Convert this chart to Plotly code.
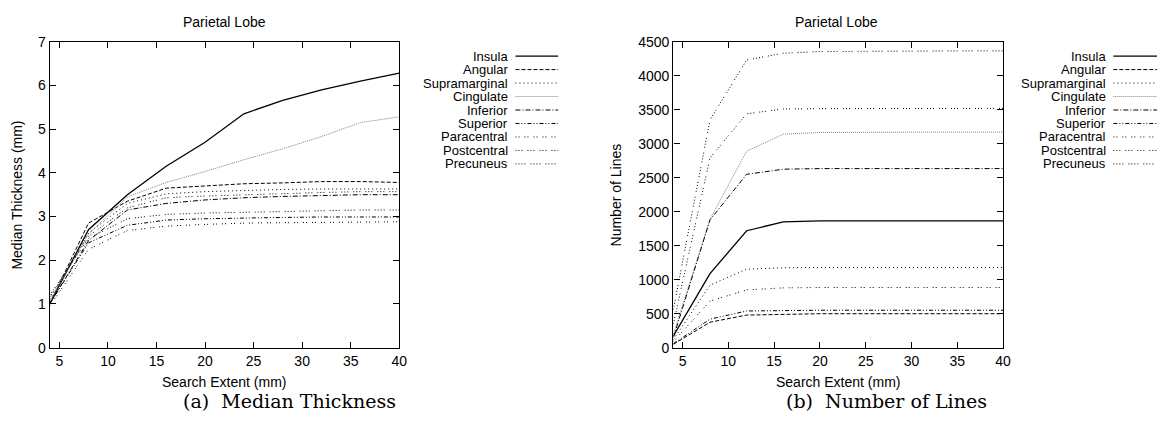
import plotly.graph_objects as go

# Search extent (mm) sampled for every region
search_extent = [4, 8, 12, 16, 20, 24, 28, 32, 36, 40]
x_ticks = [5, 10, 15, 20, 25, 30, 35, 40]

regions = ["Insula", "Angular", "Supramarginal", "Cingulate", "Inferior",
           "Superior", "Paracentral", "Postcentral", "Precuneus"]

# (a) Median thickness (mm)
thk_insula = [1.00, 2.70, 3.50, 4.15, 4.70, 5.35, 5.66, 5.90, 6.10, 6.28]
thk_angular = [1.00, 2.85, 3.35, 3.65, 3.70, 3.75, 3.77, 3.80, 3.80, 3.78]
thk_supramarginal = [1.10, 2.62, 3.30, 3.52, 3.57, 3.60, 3.62, 3.63, 3.63, 3.63]
thk_cingulate = [1.05, 2.60, 3.45, 3.78, 4.03, 4.30, 4.55, 4.83, 5.15, 5.28]
thk_inferior = [1.00, 2.45, 3.15, 3.30, 3.38, 3.43, 3.46, 3.48, 3.50, 3.50]
thk_superior = [1.00, 2.40, 2.80, 2.92, 2.95, 2.97, 2.98, 2.99, 2.99, 2.99]
thk_paracentral = [0.95, 2.25, 2.68, 2.78, 2.82, 2.85, 2.86, 2.87, 2.88, 2.88]
thk_postcentral = [1.15, 2.55, 3.20, 3.43, 3.47, 3.50, 3.53, 3.55, 3.57, 3.57]
thk_precuneus = [1.20, 2.50, 2.95, 3.05, 3.08, 3.10, 3.12, 3.14, 3.15, 3.15]

# (b) Number of lines
num_insula = [175, 1090, 1720, 1850, 1866, 1866, 1866, 1866, 1866, 1866]
num_angular = [50, 375, 480, 495, 500, 500, 500, 500, 500, 500]
num_supramarginal = [120, 920, 1155, 1175, 1180, 1180, 1180, 1180, 1180, 1180]
num_cingulate = [200, 1890, 2890, 3140, 3165, 3170, 3170, 3170, 3170, 3170]
num_inferior = [150, 1880, 2550, 2625, 2634, 2634, 2634, 2634, 2634, 2634]
num_superior = [60, 420, 540, 551, 551, 551, 551, 551, 551, 551]
num_paracentral = [90, 685, 850, 880, 885, 885, 885, 885, 885, 885]
num_postcentral = [350, 2790, 3440, 3510, 3515, 3518, 3520, 3520, 3520, 3520]
num_precuneus = [560, 3350, 4230, 4330, 4355, 4360, 4362, 4365, 4365, 4365]

thickness = [thk_insula, thk_angular, thk_supramarginal, thk_cingulate, thk_inferior,
             thk_superior, thk_paracentral, thk_postcentral, thk_precuneus]
num_lines = [num_insula, num_angular, num_supramarginal, num_cingulate, num_inferior,
             num_superior, num_paracentral, num_postcentral, num_precuneus]

# gnuplot-like line styles
dashes = {
    "Insula": "solid",
    "Angular": "4px,2px",
    "Supramarginal": "1px,3px",
    "Cingulate": "1px,1px",
    "Inferior": "5px,2px,1px,2px",
    "Superior": "4px,2px,1px,2px,1px,2px",
    "Paracentral": "1px,2px,1px,5px",
    "Postcentral": "1px,2px,1px,2px,1px,5px",
    "Precuneus": "1px,2px,1px,2px,1px,2px,1px,5px",
}
colors = {r: "#000000" for r in regions}
colors["Cingulate"] = "#808080"
widths = {r: 1.0 for r in regions}
widths["Insula"] = 1.3

W, H = 1171, 425
FONT = "Liberation Sans, Arial, sans-serif"


def px(x):
    return x / W


def py(y):
    return 1 - y / H


fig = go.Figure()

for name, ys in zip(regions, thickness):
    fig.add_trace(go.Scatter(x=search_extent, y=ys, mode="lines", name=name,
                             line=dict(color=colors[name], width=widths[name], dash=dashes[name]),
                             xaxis="x", yaxis="y", showlegend=False, hoverinfo="skip"))

for name, ys in zip(regions, num_lines):
    fig.add_trace(go.Scatter(x=search_extent, y=ys, mode="lines", name=name,
                             line=dict(color=colors[name], width=widths[name], dash=dashes[name]),
                             xaxis="x2", yaxis="y2", showlegend=False, hoverinfo="skip"))

axis_common = dict(showline=True, linecolor="black", linewidth=1.3, mirror="ticks",
                   ticks="inside", ticklen=6, tickwidth=1, tickcolor="black",
                   showgrid=False, zeroline=False,
                   tickfont=dict(family=FONT, size=14, color="black"))

ydom = [py(353), py(35)]
fig.update_layout(
    width=W, height=H,
    margin=dict(l=0, r=0, t=0, b=0),
    paper_bgcolor="white", plot_bgcolor="white",
    xaxis=dict(domain=[px(50), px(402)], range=[4, 40], tickvals=x_ticks,
               anchor="y", **axis_common),
    yaxis=dict(domain=ydom, range=[0, 7], dtick=1, anchor="x", **axis_common),
    xaxis2=dict(domain=[px(678), px(1010)], range=[4, 40], tickvals=x_ticks,
                anchor="y2", **axis_common),
    yaxis2=dict(domain=ydom, range=[0, 4500], dtick=500, anchor="x2", **axis_common),
)

annotations = []
shapes = []


def text(x, y, s, size=14, family=FONT, xanchor="center", angle=0, pad=1):
    annotations.append(dict(x=px(x), y=py(y), xref="paper", yref="paper", text=s,
                            showarrow=False, xanchor=xanchor, yanchor="middle",
                            textangle=angle, borderpad=pad,
                            font=dict(family=family, size=size, color="black")))


# Titles, axis labels and captions
text(226, 15, "Parietal Lobe")
text(842, 15, "Parietal Lobe")
text(226, 389, "Search Extent (mm)")
text(844, 389, "Search Extent (mm)")
text(17, 194, "Median Thickness (mm)", angle=-90)
text(620, 194, "Number of Lines", angle=-90)
text(291, 408, "(a)  Median Thickness", size=19, family="DejaVu Serif, serif")
text(893, 408, "(b)  Number of Lines", size=19, family="DejaVu Serif, serif")

# Keys drawn to the right of each panel: label right-aligned, sample line after it
KEY_TOP, KEY_STEP = 50, 14
for text_right, line_x0, line_x1 in [(513, 519, 562), (1115, 1121, 1165)]:
    for i, name in enumerate(regions):
        y = KEY_TOP + i * KEY_STEP
        text(text_right, y, name, size=13, xanchor="right", pad=0)
        shapes.append(dict(type="line", xref="paper", yref="paper",
                           x0=px(line_x0), x1=px(line_x1), y0=py(y), y1=py(y),
                           line=dict(color=colors[name], width=widths[name], dash=dashes[name])))

fig.update_layout(annotations=annotations, shapes=shapes)

fig.write_html("out.html")
